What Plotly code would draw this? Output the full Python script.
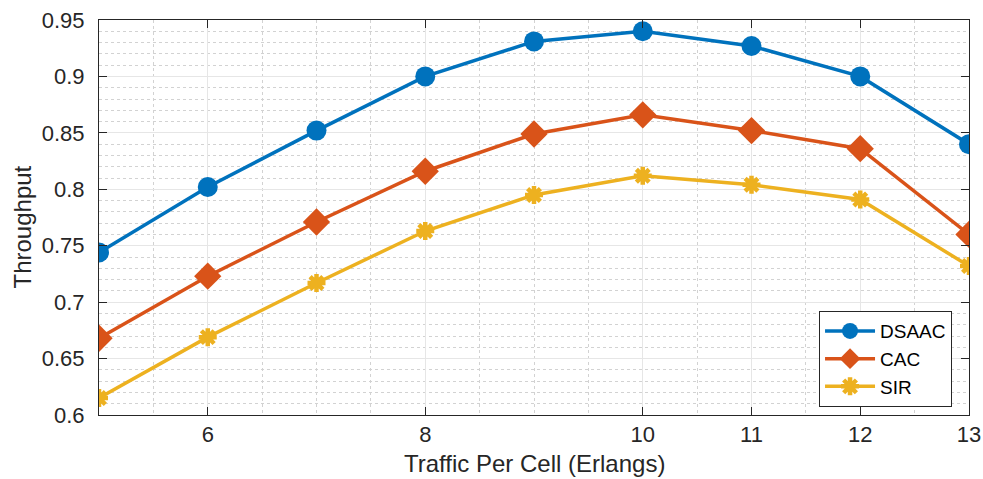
import plotly.graph_objects as go

# Offered traffic per cell (Erlangs)
traffic = [5, 6, 7, 8, 9, 10, 11, 12, 13]

# Throughput for each admission-control scheme
dsaac = [0.744, 0.802, 0.852, 0.900, 0.931, 0.940, 0.927, 0.900, 0.840]
cac = [0.668, 0.723, 0.771, 0.816, 0.849, 0.866, 0.852, 0.836, 0.760]
sir = [0.615, 0.669, 0.717, 0.763, 0.795, 0.812, 0.804, 0.791, 0.732]

x_ticks = [6, 8, 10, 11, 12, 13]
y_ticks = [0.6, 0.65, 0.7, 0.75, 0.8, 0.85, 0.9, 0.95]
y_tick_text = ["0.6", "0.65", "0.7", "0.75", "0.8", "0.85", "0.9", "0.95"]

BLUE = "#0072BD"
ORANGE = "#D95319"
YELLOW = "#EDB120"
AXIS = "#262626"
GRID = "#e6e6e6"
MINOR_GRID = "#d2d2d2"

fig = go.Figure()
fig.add_trace(go.Scatter(
    x=traffic, y=dsaac, name="DSAAC", mode="lines+markers",
    line=dict(color=BLUE, width=3.5),
    marker=dict(symbol="circle", size=20, color=BLUE),
))
fig.add_trace(go.Scatter(
    x=traffic, y=cac, name="CAC", mode="lines+markers",
    line=dict(color=ORANGE, width=3.5),
    marker=dict(symbol="diamond", size=21, color=ORANGE),
))
fig.add_trace(go.Scatter(
    x=traffic, y=sir, name="SIR", mode="lines+markers",
    line=dict(color=YELLOW, width=3.5),
    marker=dict(symbol="asterisk-open", size=15, color=YELLOW,
                line=dict(color=YELLOW, width=4.5)),
))

font_family = "Liberation Sans, Arial, sans-serif"

fig.update_layout(
    width=983, height=479,
    margin=dict(l=99, r=14, t=20, b=64),
    paper_bgcolor="white", plot_bgcolor="white",
    font=dict(family=font_family, color=AXIS, size=22),
    showlegend=True,
    legend=dict(
        x=0.9805, y=0.02, xanchor="right", yanchor="bottom",
        bgcolor="white", bordercolor=AXIS, borderwidth=1,
        font=dict(size=19, color="black"),
        itemwidth=50, tracegroupgap=0,
    ),
    xaxis=dict(
        range=[5, 13], automargin=False,
        tickmode="array", tickvals=x_ticks,
        ticks="inside", ticklen=8, tickcolor=AXIS, tickwidth=1,
        showline=True, linecolor=AXIS, linewidth=1, mirror="ticks",
        showgrid=True, gridcolor=GRID, gridwidth=1,
        zeroline=False,
        minor=dict(tickmode="linear", tick0=5, dtick=0.5, ticks="",
                   showgrid=True, gridcolor=MINOR_GRID, griddash="dot",
                   gridwidth=1),
        tickfont=dict(size=22),
    ),
    yaxis=dict(
        range=[0.6, 0.95], automargin=False,
        tickmode="array", tickvals=y_ticks, ticktext=y_tick_text,
        ticks="inside", ticklen=8, tickcolor=AXIS, tickwidth=1,
        ticklabelstandoff=9,
        showline=True, linecolor=AXIS, linewidth=1, mirror="ticks",
        showgrid=True, gridcolor=GRID, gridwidth=1,
        zeroline=False,
        minor=dict(tickmode="linear", tick0=0.6, dtick=0.01, ticks="",
                   showgrid=True, gridcolor=MINOR_GRID, griddash="dot",
                   gridwidth=1),
        tickfont=dict(size=22),
    ),
    annotations=[
        dict(
            text="Throughput", textangle=-90,
            xref="paper", yref="paper", x=0, y=0.5,
            xanchor="center", yanchor="middle",
            xshift=-77, yshift=-10, showarrow=False,
            font=dict(size=24, color=AXIS),
        ),
        dict(
            text="Traffic Per Cell (Erlangs)",
            xref="paper", yref="paper", x=0.5, y=0,
            xanchor="center", yanchor="bottom",
            yshift=-64, showarrow=False,
            font=dict(size=24, color=AXIS),
        ),
    ],
)

fig.write_html("out.html")
